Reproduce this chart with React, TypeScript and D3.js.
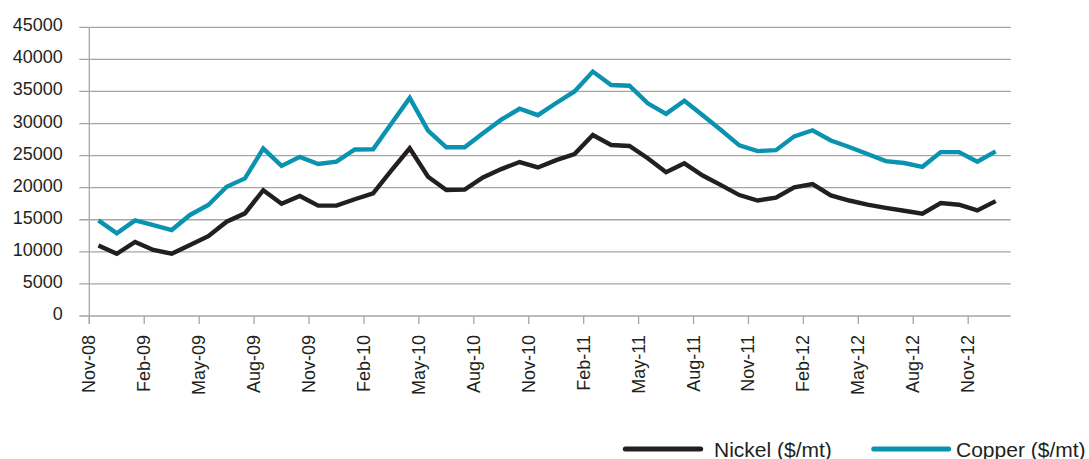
import React from "react";
import * as d3 from "d3";

const months = [
  "Nov-08","Dec-08","Jan-09","Feb-09","Mar-09","Apr-09","May-09","Jun-09","Jul-09","Aug-09","Sep-09","Oct-09",
  "Nov-09","Dec-09","Jan-10","Feb-10","Mar-10","Apr-10","May-10","Jun-10","Jul-10","Aug-10","Sep-10","Oct-10",
  "Nov-10","Dec-10","Jan-11","Feb-11","Mar-11","Apr-11","May-11","Jun-11","Jul-11","Aug-11","Sep-11","Oct-11",
  "Nov-11","Dec-11","Jan-12","Feb-12","Mar-12","Apr-12","May-12","Jun-12","Jul-12","Aug-12","Sep-12","Oct-12",
  "Nov-12","Dec-12",
];

const nickel = [
  11000, 9700, 11550, 10300, 9700, 11050, 12450, 14700, 16000, 19600,
  17500, 18700, 17200, 17200, 18200, 19100, 22700, 26150, 21700, 19650,
  19700, 21600, 22900, 24000, 23150, 24300, 25250, 28200, 26650, 26500,
  24600, 22400, 23800, 21900, 20400, 18850, 18000, 18450, 20050, 20550,
  18800, 18000, 17350, 16850, 16400, 15950, 17600, 17350, 16450, 17900,
];

const copper = [
  14900, 12900, 14900, 14150, 13400, 15750, 17300, 20150, 21450, 26100,
  23400, 24800, 23700, 24050, 25950, 26000, 30000, 34000, 28900, 26300,
  26300, 28500, 30600, 32300, 31300, 33200, 35000, 38100, 36000, 35900,
  33150, 31500, 33550, 31300, 29000, 26600, 25700, 25850, 28000, 28950,
  27350, 26350, 25250, 24150, 23850, 23250, 25550, 25550, 24050, 25650,
];

const yTicks = [0, 5000, 10000, 15000, 20000, 25000, 30000, 35000, 40000, 45000];
const xTickLabels = months.filter((_, i) => i % 3 === 0);

const seriesNames = ["Nickel ($/mt)", "Copper ($/mt)"];
const seriesColors = ["#231f20", "#0a93b0"];

const W = 1089;
const H = 459;
const axisX = 89.3;
const plotRight = 1010.7;
const plotTop = 27.3;
const plotBottom = 316;
const monthPx = 18.31;
const FONT = "'Liberation Sans', Arial, sans-serif";

export default function App() {
  const x = d3.scaleLinear().domain([0, 1]).range([axisX, axisX + monthPx]);
  const y = d3.scaleLinear().domain([0, 45000]).range([plotBottom, plotTop]);

  const line = d3
    .line<number>()
    .x((_, i) => x(i + 0.5))
    .y((d) => y(d));

  const series = [nickel, copper];

  return (
    <div style={{ position: "absolute", left: 0, top: 0 }}>
      <svg width={W} height={H} style={{ display: "block", background: "#fff" }}>
        {yTicks.map((t) => (
          <line
            key={"g" + t}
            x1={79.3}
            x2={plotRight}
            y1={y(t)}
            y2={y(t)}
            stroke="#a6a6a6"
            strokeWidth={1.3}
          />
        ))}
        <line x1={axisX} x2={axisX} y1={plotTop} y2={plotBottom + 8} stroke="#a6a6a6" strokeWidth={1.3} />
        {yTicks.map((t) => (
          <text
            key={"yl" + t}
            x={62.7}
            y={y(t) - 2}
            textAnchor="end"
            dominantBaseline="central"
            fontFamily={FONT}
            fontSize={18}
            fill="#231f20"
          >
            {t}
          </text>
        ))}
        {xTickLabels.map((lab, k) => {
          const xi = x(k * 3);
          return (
            <g key={"xt" + lab}>
              <line x1={xi} x2={xi} y1={plotBottom} y2={plotBottom + 8} stroke="#a6a6a6" strokeWidth={1.3} />
              <text
                transform={`translate(${xi},${plotBottom + 19}) rotate(-90)`}
                textAnchor="end"
                dominantBaseline="central"
                fontFamily={FONT}
                fontSize={18}
                fill="#231f20"
              >
                {lab}
              </text>
            </g>
          );
        })}
        {series.map((s, k) => (
          <path
            key={"s" + k}
            d={line(s) || ""}
            fill="none"
            stroke={seriesColors[k]}
            strokeWidth={4.4}
            strokeLinejoin="miter"
            strokeLinecap="butt"
          />
        ))}
        {[
          { x1: 623.3, x2: 702.7, tx: 714 },
          { x1: 871.7, x2: 950.7, tx: 956 },
        ].map((l, k) => (
          <g key={"lg" + k}>
            <line x1={l.x1 + 2} x2={l.x2 - 2} y1={449} y2={449} stroke={seriesColors[k]} strokeWidth={5} strokeLinecap="round" />
            <text x={l.tx} y={449} dominantBaseline="central" fontFamily={FONT} fontSize={21} fill="#231f20">
              {seriesNames[k]}
            </text>
          </g>
        ))}
      </svg>
    </div>
  );
}
